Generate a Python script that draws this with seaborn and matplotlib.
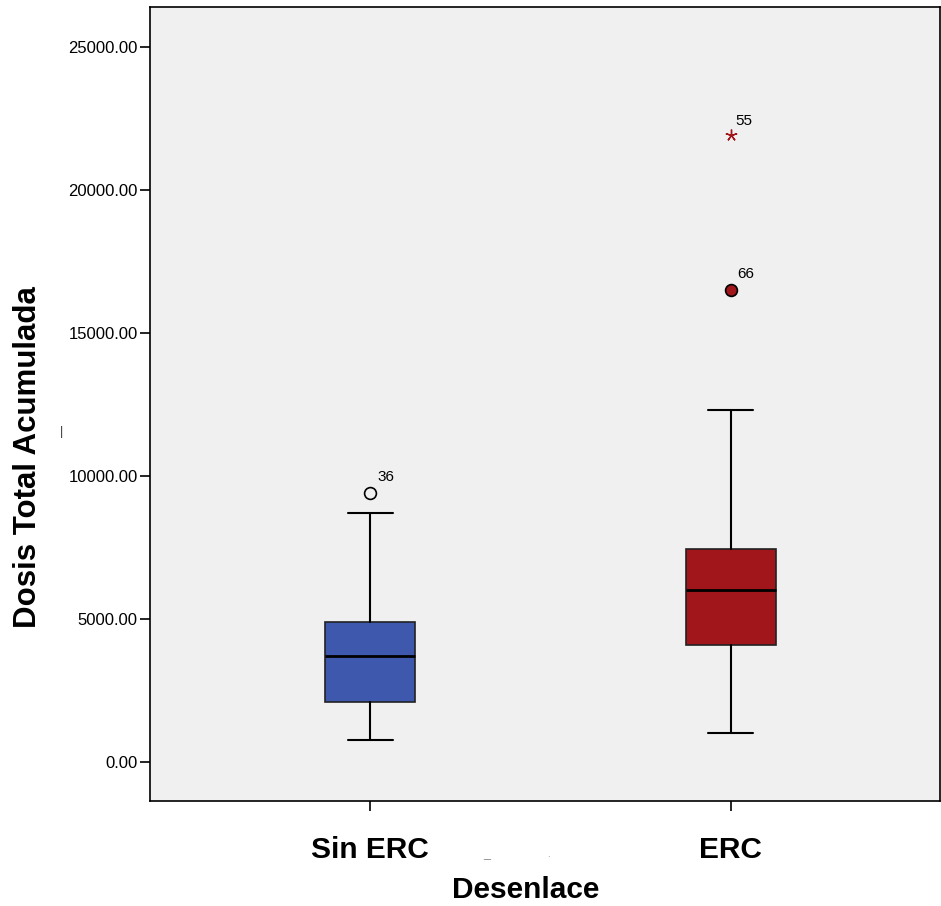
import seaborn as sns
import matplotlib.pyplot as plt

sns.set_style("white")
plt.rcParams['font.family'] = ['Liberation Sans', 'DejaVu Sans']
plt.rcParams['text.color'] = 'black'
plt.rcParams['axes.labelcolor'] = 'black'
plt.rcParams['xtick.color'] = 'black'
plt.rcParams['ytick.color'] = 'black'

# summary statistics
groups = ['Sin ERC', 'ERC']
whisker_low = [770, 1000]
q1 = [2110, 4090]
median = [3720, 6010]
q3 = [4910, 7450]
whisker_high = [8720, 12310]
outliers = [[9400], [16500]]
outlier_ids = [['36'], ['66']]
extremes = [[], [21920]]
extreme_ids = [[], ['55']]
box_colors = ['#3D58AC', '#A0161B']
yticks = [0, 5000, 10000, 15000, 20000, 25000]

fig = plt.figure(figsize=(9.41, 9.06), dpi=100)
ax = fig.add_axes([150 / 941, 105 / 906, 790 / 941, 794 / 906])
ax.set_facecolor('#F0F0F0')

stats = []
for i, g in enumerate(groups):
    stats.append({'label': g, 'whislo': whisker_low[i], 'q1': q1[i],
                  'med': median[i], 'q3': q3[i], 'whishi': whisker_high[i],
                  'fliers': []})

bp = ax.bxp(stats, positions=range(len(groups)), widths=0.25,
            patch_artist=True, showfliers=False,
            medianprops={'color': 'black', 'linewidth': 2},
            whiskerprops={'color': 'black', 'linewidth': 1.5},
            capprops={'color': 'black', 'linewidth': 1.5},
            boxprops={'edgecolor': '#222222', 'linewidth': 1.2})
for patch, c in zip(bp['boxes'], box_colors):
    patch.set_facecolor(c)

for i in range(len(groups)):
    for v, lab in zip(outliers[i], outlier_ids[i]):
        face = 'none' if i == 0 else box_colors[i]
        ax.plot(i, v, 'o', markersize=8.5, markerfacecolor=face,
                markeredgecolor='black', markeredgewidth=1.2)
        ax.annotate(lab, (i, v), xytext=(5, 9), textcoords='offset points',
                    fontsize=11)
    for v, lab in zip(extremes[i], extreme_ids[i]):
        ax.plot(i, v, marker=(5, 2, 0), markersize=8.5, color=box_colors[i],
                markeredgewidth=1.0)
        ax.annotate(lab, (i, v), xytext=(3, 7), textcoords='offset points',
                    fontsize=11)

ax.set_xlim(-0.61, 1.58)
ax.set_ylim(-1360, 26400)
ax.set_yticks(yticks)
ax.set_yticklabels([f'{t:.2f}' for t in yticks], fontsize=12)
ax.set_xticks(range(len(groups)))
ax.set_xticklabels(groups, fontsize=21.5, fontweight='bold')
ax.tick_params(axis='both', which='both', direction='out', length=7,
               width=1.2, color='black', left=True, bottom=True)
ax.tick_params(axis='x', pad=18)
ax.tick_params(axis='y', pad=2)

for s in ax.spines.values():
    s.set_color('black')
    s.set_linewidth(1.2)

ax.set_xlabel('Desenlace', fontsize=21.5, fontweight='bold', labelpad=9)
ax.xaxis.label.set_x(0.476)
ax.set_ylabel('Dosis Total Acumulada', fontsize=22.5, fontweight='bold')
ax.yaxis.set_label_coords(-0.135, 0.433)

# small stray marks present in the original export
fig.text(62 / 941, 1 - 432 / 906, '|', fontsize=9, color='#333333',
         ha='center', va='center')
fig.text(487 / 941, 1 - 854 / 906, '_', fontsize=9, color='#888888',
         ha='center', va='center')
fig.text(548 / 941, 1 - 854 / 906, '.', fontsize=7, color='#888888',
         ha='center', va='center')

fig.savefig('out.png', dpi=100, facecolor='white')
